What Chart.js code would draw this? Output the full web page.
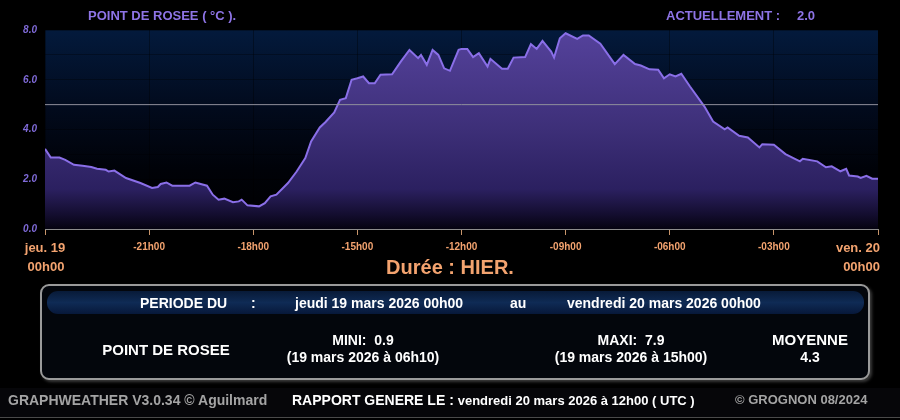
<!DOCTYPE html>
<html lang="fr">
<head>
<meta charset="utf-8">
<title>Point de rosée</title>
<script src="https://cdn.jsdelivr.net/npm/chart.js@4.4.1/dist/chart.umd.min.js"></script>
<style>
  html, body { margin: 0; padding: 0; background: #000; }
  #page { position: relative; width: 900px; height: 420px; overflow: hidden; background: #000;
          font-family: "Liberation Sans", Arial, sans-serif; font-weight: bold; }
  #graph { position: absolute; left: 0; top: 0; }
  .t { position: absolute; white-space: pre; line-height: 16px; }
  .violet { color: #8e74e6; font-size: 13px; }
  .orange { color: #f3a36f; }
  .blanc { color: #fff; font-size: 14px; }
  .gris { color: #a4a4a4; font-size: 13px; }
  #cadre { position: absolute; left: 40px; top: 284px; width: 830px; height: 96px; box-sizing: border-box;
           border: 2px solid #9a9a9a; border-radius: 9px; background: #03060c;
           box-shadow: 2px 2px 3px #3a3a3a; }
  #bandeau { position: absolute; left: 47px; top: 291px; width: 817px; height: 23px; border-radius: 11px;
             background: linear-gradient(to bottom, #081a38, #0f2b55 50%, #07183a); }
  #pied { position: absolute; left: 0; top: 388px; width: 900px; height: 29px; background: #060609;
          border-bottom: 1px solid #4a4a4a; }
</style>
</head>
<body>
<div id="page">
  <canvas id="graph" width="900" height="280"></canvas>

  <div class="t violet" style="left:88px; top:8px;">POINT DE ROSEE ( °C ).</div>
  <div class="t violet" style="left:666px; top:8px;">ACTUELLEMENT :</div>
  <div class="t violet" style="left:797px; top:8px;">2.0</div>

  <div class="t orange" style="left:5px; width:80px; text-align:center; top:240px; font-size:13px;">jeu. 19</div>
  <div class="t orange" style="left:6px; width:80px; text-align:center; top:259px; font-size:13px;">00h00</div>
  <div class="t orange" style="left:780px; width:100px; text-align:right; top:240px; font-size:13px;">ven. 20</div>
  <div class="t orange" style="left:780px; width:100px; text-align:right; top:259px; font-size:13px;">00h00</div>

  <div class="t orange" style="left:300px; width:300px; text-align:center; top:256px; line-height:22px; font-size:20px;">Durée : HIER.</div>

  <div id="cadre"></div>
  <div id="bandeau"></div>
  <div class="t blanc" style="left:140px; top:295px;">PERIODE DU</div>
  <div class="t blanc" style="left:251px; top:295px;">:</div>
  <div class="t blanc" style="left:295px; top:295px;">jeudi 19 mars 2026 00h00</div>
  <div class="t blanc" style="left:510px; top:295px;">au</div>
  <div class="t blanc" style="left:567px; top:295px;">vendredi 20 mars 2026 00h00</div>

  <div class="t blanc" style="left:66px; width:200px; text-align:center; top:342px; font-size:15px;">POINT DE ROSEE</div>
  <div class="t blanc" style="left:263px; width:200px; text-align:center; top:332px;">MINI:  0.9</div>
  <div class="t blanc" style="left:263px; width:200px; text-align:center; top:349px;">(19 mars 2026 à 06h10)</div>
  <div class="t blanc" style="left:531px; width:200px; text-align:center; top:332px;">MAXI:  7.9</div>
  <div class="t blanc" style="left:531px; width:200px; text-align:center; top:349px;">(19 mars 2026 à 15h00)</div>
  <div class="t blanc" style="left:710px; width:200px; text-align:center; top:332px; font-size:15px;">MOYENNE</div>
  <div class="t blanc" style="left:710px; width:200px; text-align:center; top:349px;">4.3</div>

  <div id="pied"></div>
  <div class="t gris" style="left:8px; top:392px; font-size:14px;">GRAPHWEATHER V3.0.34 © Aguilmard</div>
  <div class="t blanc" style="left:292px; top:392px;">RAPPORT GENERE LE : <span style="font-size:13px">vendredi 20 mars 2026 à 12h00 ( UTC )</span></div>
  <div class="t gris" style="left:735px; top:392px;">© GROGNON 08/2024</div>
</div>

<script>
// minutes depuis jeudi 19 mars 00h00
const minutes = [
  0, 10, 25, 35, 50, 65, 80, 90, 105, 110,
  120, 140, 165, 185, 195, 200, 210, 220, 250, 260,
  280, 290, 300, 310, 325, 335, 340, 350, 370, 380,
  390, 400, 420, 435, 450, 460, 475, 485, 500, 510,
  520, 530, 540, 550, 560, 570, 580, 600, 615, 630,
  645, 650, 660, 670, 680, 690, 700, 715, 720, 730,
  740, 750, 765, 770, 790, 800, 810, 830, 840, 850,
  860, 875, 880, 890, 900, 920, 930, 940, 960, 985,
  1000, 1020, 1030, 1045, 1060, 1070, 1080, 1090, 1100, 1115,
  1140, 1155, 1175, 1180, 1200, 1215, 1235, 1240, 1260, 1280,
  1305, 1310, 1335, 1350, 1360, 1375, 1385, 1390, 1405, 1410,
  1420, 1430, 1440
];

// point de rosée (°C)
const rosee = [
  3.22, 2.87, 2.87, 2.78, 2.58, 2.54, 2.49, 2.42, 2.38, 2.31,
  2.35, 2.05, 1.85, 1.65, 1.69, 1.81, 1.87, 1.74, 1.74, 1.87,
  1.74, 1.38, 1.18, 1.22, 1.08, 1.11, 1.18, 0.95, 0.91, 1.04,
  1.31, 1.38, 1.85, 2.31, 2.85, 3.52, 4.08, 4.30, 4.69, 5.19,
  5.26, 6.00, 6.06, 6.13, 5.86, 5.86, 6.20, 6.22, 6.73, 7.20,
  6.87, 7.00, 6.60, 7.20, 7.00, 6.46, 6.36, 7.20, 7.24, 7.24,
  6.91, 7.07, 6.53, 6.84, 6.44, 6.44, 6.89, 6.91, 7.43, 7.24,
  7.56, 7.13, 6.89, 7.67, 7.87, 7.64, 7.78, 7.78, 7.45, 6.63,
  7.00, 6.63, 6.57, 6.42, 6.40, 6.06, 6.22, 6.13, 6.24, 5.73,
  4.92, 4.32, 4.01, 4.08, 3.75, 3.68, 3.28, 3.41, 3.39, 3.01,
  2.72, 2.82, 2.72, 2.48, 2.52, 2.32, 2.42, 2.15, 2.11, 2.05,
  2.14, 2.02, 2.02
];

// étiquettes de l'axe X (toutes les 3 heures), les extrêmes sont en HTML
const etiquettesX = ['', '-21h00', '-18h00', '-15h00', '-12h00', '-09h00', '-06h00', '-03h00', ''];
const etiquettesY = ['0.0', '', '2.0', '', '4.0', '', '6.0', '', '8.0'];
const valeurRef = 5.0;

// fond dégradé de la zone du graphique
const fondGraphique = {
  id: 'fondGraphique',
  beforeDraw(chart) {
    const a = chart.chartArea;
    const ctx = chart.ctx;
    const g = ctx.createLinearGradient(0, a.top, 0, a.bottom);
    g.addColorStop(0, '#031a3c');
    g.addColorStop(0.4, '#020a1c');
    g.addColorStop(0.7, '#000208');
    g.addColorStop(1, '#000000');
    ctx.save();
    ctx.fillStyle = g;
    ctx.fillRect(a.left, a.top, a.right - a.left, a.bottom - a.top);
    ctx.restore();
  }
};

function degradeRemplissage(context) {
  const a = context.chart.chartArea;
  if (!a) return 'rgba(70,55,140,0.8)';
  const g = context.chart.ctx.createLinearGradient(0, a.top, 0, a.bottom);
  g.addColorStop(0, '#55429c');
  g.addColorStop(0.5, '#3d2f78');
  g.addColorStop(0.8, '#2b2060');
  g.addColorStop(0.93, '#130d2e');
  g.addColorStop(1, '#050310');
  return g;
}

new Chart(document.getElementById('graph'), {
  type: 'line',
  data: {
    datasets: [
      {
        label: 'Référence',
        data: [{ x: 0, y: valeurRef }, { x: 1440, y: valeurRef }],
        borderColor: '#8f8f9c',
        borderWidth: 1,
        pointRadius: 0,
        fill: false,
        order: 0
      },
      {
        label: 'Point de rosée',
        data: minutes.map((m, i) => ({ x: m, y: rosee[i] })),
        borderColor: '#8a6fe8',
        borderWidth: 2,
        pointRadius: 0,
        tension: 0,
        fill: 'origin',
        backgroundColor: degradeRemplissage,
        order: 1
      }
    ]
  },
  options: {
    responsive: false,
    animation: false,
    devicePixelRatio: 1,
    layout: { padding: { left: 0, right: 22, top: 30, bottom: 0 } },
    plugins: {
      legend: { display: false },
      tooltip: { enabled: false },
      title: { display: false }
    },
    scales: {
      x: {
        type: 'linear',
        min: 0,
        max: 1440,
        z: 1,
        afterFit: (s) => { s.height = 51; },
        border: { color: '#8c8c8c', width: 1 },
        grid: {
          color: 'rgba(0,0,0,0.35)',
          tickColor: '#c8956a',
          tickLength: 6
        },
        ticks: {
          stepSize: 180,
          autoSkip: false,
          maxRotation: 0,
          padding: 6,
          color: '#f3a36f',
          font: { family: 'Liberation Sans, Arial', size: 10, weight: 'bold' },
          callback: (v) => etiquettesX[v / 180]
        }
      },
      y: {
        min: 0,
        max: 8,
        z: 1,
        afterFit: (s) => { s.width = 45; },
        border: { display: false },
        grid: { color: 'rgba(0,0,0,0.3)', drawTicks: false },
        ticks: {
          stepSize: 1,
          padding: 8,
          color: '#7f6ad8',
          font: { family: 'Liberation Sans, Arial', size: 10, weight: 'bold', style: 'italic' },
          callback: (v) => etiquettesY[v]
        }
      }
    }
  },
  plugins: [fondGraphique]
});
</script>
</body>
</html>
